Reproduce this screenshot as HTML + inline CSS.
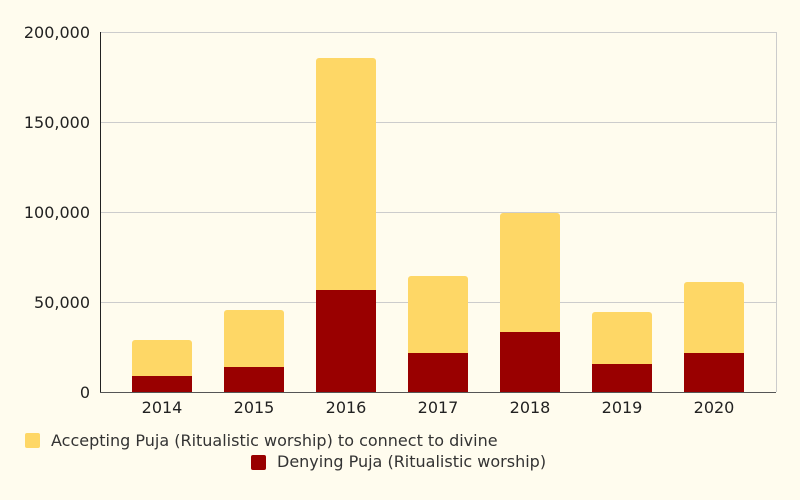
<!DOCTYPE html>
<html><head><style>body{margin:0;background:#fffcee}</style></head><body>
<svg width="800" height="495" xmlns="http://www.w3.org/2000/svg" font-family="DejaVu Sans, sans-serif">
<rect width="800" height="495" fill="#fffcee"/>
<g stroke="#ccc" stroke-width="1">
<line x1="100" y1="32.5" x2="776" y2="32.5"/>
<line x1="100" y1="122.5" x2="776" y2="122.5"/>
<line x1="100" y1="212.5" x2="776" y2="212.5"/>
<line x1="100" y1="302.5" x2="776" y2="302.5"/>
<line x1="776.5" y1="32" x2="776.5" y2="392"/>
</g>
<g font-size="16" fill="#222" text-anchor="end">
<text x="90" y="38">200,000</text>
<text x="90" y="128">150,000</text>
<text x="90" y="218">100,000</text>
<text x="90" y="308">50,000</text>
<text x="90" y="398">0</text>
</g>
<g>
<rect x="132" y="340" width="60" height="52" rx="3" fill="#fed766"/>
<rect x="132" y="376" width="60" height="16" fill="#990000"/>
<rect x="224" y="310" width="60" height="82" rx="3" fill="#fed766"/>
<rect x="224" y="367" width="60" height="25" fill="#990000"/>
<rect x="316" y="58" width="60" height="334" rx="3" fill="#fed766"/>
<rect x="316" y="290" width="60" height="102" fill="#990000"/>
<rect x="408" y="276" width="60" height="116" rx="3" fill="#fed766"/>
<rect x="408" y="353" width="60" height="39" fill="#990000"/>
<rect x="500" y="213" width="60" height="179" rx="3" fill="#fed766"/>
<rect x="500" y="332" width="60" height="60" fill="#990000"/>
<rect x="592" y="312" width="60" height="80" rx="3" fill="#fed766"/>
<rect x="592" y="364" width="60" height="28" fill="#990000"/>
<rect x="684" y="282" width="60" height="110" rx="3" fill="#fed766"/>
<rect x="684" y="353" width="60" height="39" fill="#990000"/>
</g>
<line x1="100.5" y1="32" x2="100.5" y2="393" stroke="#222" stroke-width="1"/>
<line x1="100" y1="392.5" x2="776" y2="392.5" stroke="#555" stroke-width="1"/>
<g font-size="16" fill="#222" text-anchor="middle">
<text x="162" y="413">2014</text><text x="254" y="413">2015</text><text x="346" y="413">2016</text>
<text x="438" y="413">2017</text><text x="530" y="413">2018</text><text x="622" y="413">2019</text><text x="714" y="413">2020</text>
</g>
<rect x="25" y="433" width="15" height="15" rx="2" fill="#fed766"/>
<text x="51" y="446" font-size="16" fill="#333">Accepting Puja (Ritualistic worship) to connect to divine</text>
<rect x="251" y="455" width="15" height="15" rx="2" fill="#990000"/>
<text x="277" y="467" font-size="16" fill="#333">Denying Puja (Ritualistic worship)</text>
</svg>
</body></html>
